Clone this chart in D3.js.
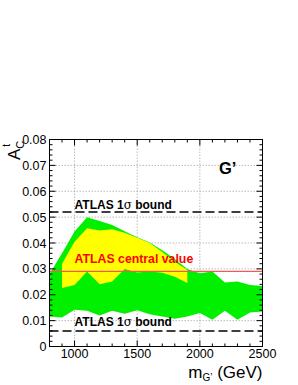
<!DOCTYPE html>
<html>
<head>
<meta charset="utf-8">
<script src="https://cdn.jsdelivr.net/npm/d3@7"></script>
<style>
	body { margin: 0; background: white; }
	svg text { font-family: 'Liberation Sans', Arial, sans-serif; }
</style>
</head>
<body>
<svg id="chart" width="298" height="385"></svg>
<script>
// G' mass points (GeV)
const masses = [800, 900, 1000, 1100, 1200, 1300, 1400, 1500, 1600, 1700, 1800, 1900, 2000, 2100, 2200, 2300, 2400, 2500];
const greenUpper = [0.028, 0.036, 0.0444, 0.050, 0.0485, 0.047, 0.0445, 0.0422, 0.0402, 0.0372, 0.0338, 0.030, 0.0283, 0.029, 0.0247, 0.0251, 0.0238, 0.0234];
const greenLower = [0.0116, 0.0112, 0.0142, 0.0138, 0.012, 0.0138, 0.0127, 0.014, 0.0125, 0.0116, 0.0107, 0.0116, 0.0129, 0.0103, 0.0138, 0.0103, 0.0131, 0.0135];

// yellow band only spans 900..1900
const yellowMasses = [900, 1000, 1100, 1200, 1300, 1400, 1500, 1600, 1700, 1800, 1900];
const yellowUpper = [0.032, 0.0405, 0.0457, 0.0448, 0.0453, 0.044, 0.042, 0.040, 0.0365, 0.0328, 0.0296];
const yellowLower = [0.0226, 0.0238, 0.029, 0.0241, 0.0251, 0.030, 0.0286, 0.029, 0.0285, 0.027, 0.0245];

const atlasCentral = 0.029;
const atlasBounds = [0.052, 0.006];

const xTicks = [1000, 1500, 2000, 2500];
const yTicks = [0, 0.01, 0.02, 0.03, 0.04, 0.05, 0.06, 0.07, 0.08];

const pLeft = 49.5, pRight = 262.5, pTop = 139.5, pBottom = 346.5;

const x = d3.scaleLinear().domain([800, 2500]).range([pLeft, pRight]);
const y = d3.scaleLinear().domain([0, 0.08]).range([pBottom, pTop]);

const svg = d3.select('#chart');

// grid
const grid = svg.append('g')
	.attr('stroke', '#aaa')
	.attr('stroke-width', 0.8)
	.attr('stroke-dasharray', '1.5,1.5');
xTicks.filter((t) => t < 2500).forEach((t) => {
	grid.append('line')
		.attr('x1', x(t)).attr('x2', x(t))
		.attr('y1', pTop).attr('y2', pBottom);
});
yTicks.filter((t) => t > 0 && t < 0.08).forEach((t) => {
	grid.append('line')
		.attr('x1', pLeft).attr('x2', pRight)
		.attr('y1', y(t)).attr('y2', y(t));
});

// bands
const band = (xs, lo, hi) => {
	const pts = xs.map((m, i) => [x(m), y(hi[i])]);
	for (let i = xs.length - 1; i >= 0; i--) {
		pts.push([x(xs[i]), y(lo[i])]);
	}
	return pts.map((p) => p.join(',')).join(' ');
};
svg.append('polygon')
	.attr('points', band(masses, greenLower, greenUpper))
	.attr('fill', '#00f000');
svg.append('polygon')
	.attr('points', band(yellowMasses, yellowLower, yellowUpper))
	.attr('fill', '#ffff00');

// ATLAS lines
svg.append('line')
	.attr('x1', pLeft).attr('x2', pRight)
	.attr('y1', y(atlasCentral)).attr('y2', y(atlasCentral))
	.attr('stroke', '#f05a5a')
	.attr('stroke-width', 1.3);
atlasBounds.forEach((b) => {
	svg.append('line')
		.attr('x1', pLeft).attr('x2', pRight)
		.attr('y1', y(b)).attr('y2', y(b))
		.attr('stroke', 'black')
		.attr('stroke-width', 1.5)
		.attr('stroke-dasharray', '9,4');
});

// labels inside plot
const addSigma = (ty) => {
	const t = svg.append('text')
		.attr('x', x(1000))
		.attr('y', ty)
		.attr('font-size', 12)
		.attr('font-weight', 'bold');
	t.append('tspan').text('ATLAS 1');
	t.append('tspan').attr('font-weight', 'normal').attr('font-family', 'DejaVu Serif, serif').text('σ');
	t.append('tspan').text(' bound');
};
addSigma(y(atlasBounds[0]) - 3);
addSigma(y(atlasBounds[1]) - 4.5);

svg.append('text')
	.attr('x', x(1000))
	.attr('y', y(atlasCentral) - 8.5)
	.attr('font-size', 12.3)
	.attr('font-weight', 'bold')
	.attr('fill', '#ff0000')
	.text('ATLAS central value');

svg.append('text')
	.attr('x', 219)
	.attr('y', 173.5)
	.attr('font-size', 16.5)
	.attr('font-weight', 'bold')
	.text('G\u2019');

// frame
svg.append('rect')
	.attr('x', pLeft).attr('y', pTop)
	.attr('width', pRight - pLeft).attr('height', pBottom - pTop)
	.attr('fill', 'none')
	.attr('stroke', 'black')
	.attr('stroke-width', 1);

// ticks
const tk = svg.append('g').attr('stroke', 'black').attr('stroke-width', 1);
d3.range(800, 2501, 100).forEach((m) => {
	const len = m % 500 === 0 ? 6 : 3;
	tk.append('line').attr('x1', x(m)).attr('x2', x(m)).attr('y1', pBottom).attr('y2', pBottom - len);
	tk.append('line').attr('x1', x(m)).attr('x2', x(m)).attr('y1', pTop).attr('y2', pTop + len);
});
d3.range(0, 41).forEach((i) => {
	const v = i * 0.002;
	const len = i % 5 === 0 ? 6 : 3;
	tk.append('line').attr('x1', pLeft).attr('x2', pLeft + len).attr('y1', y(v)).attr('y2', y(v));
	tk.append('line').attr('x1', pRight).attr('x2', pRight - len).attr('y1', y(v)).attr('y2', y(v));
});

// tick labels
svg.append('g').selectAll('text').data(xTicks).enter().append('text')
	.attr('x', (d) => x(d))
	.attr('y', 358)
	.attr('text-anchor', 'middle')
	.attr('font-size', 12.5)
	.text((d) => d);
svg.append('g').selectAll('text').data(yTicks).enter().append('text')
	.attr('x', pLeft - 3)
	.attr('y', (d) => y(d) + 4.5)
	.attr('text-anchor', 'end')
	.attr('font-size', 12.5)
	.text((d) => d === 0 ? '0' : d3.format('.2f')(d));

// axis titles
const xt = svg.append('text')
	.attr('x', pRight)
	.attr('y', 378)
	.attr('text-anchor', 'end')
	.attr('font-size', 17);
xt.append('tspan').text('m');
xt.append('tspan').attr('font-size', 10).attr('dy', 3).text('G\u2019');
xt.append('tspan').attr('dy', -3).text(' (GeV)');

const yt = svg.append('text')
	.attr('transform', 'translate(19.5,160) rotate(-90)')
	.attr('font-size', 17);
yt.append('tspan').text('A');
yt.append('tspan').attr('font-size', 11).attr('dy', 4).text('C');
yt.append('tspan').attr('font-size', 10).attr('dx', -6).attr('dy', -14).text('t');
</script>
</body>
</html>
